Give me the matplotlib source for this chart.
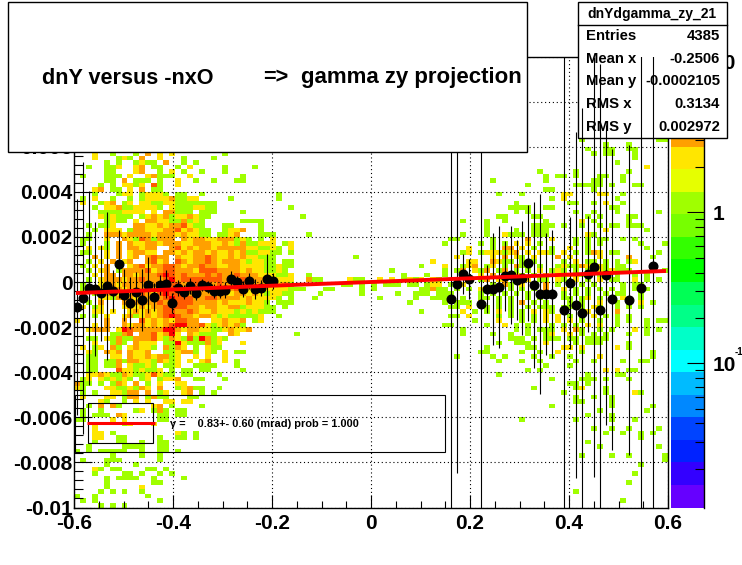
import numpy as np
import matplotlib
matplotlib.use("Agg")
import matplotlib.pyplot as plt
from matplotlib.colors import BoundaryNorm, ListedColormap
from matplotlib.patches import Rectangle
from matplotlib.transforms import Affine2D

plt.rcParams["font.family"] = ["Liberation Sans", "DejaVu Sans"]
plt.rcParams["font.weight"] = "bold"

W, H = 742, 565

# 2D histogram, counts per bin. row 0 is the top bin, '.' is an empty bin
# columns 0-39, rows 21-99
LEFT_ROWS = [
    "...2..1... 1.3.2.2... .....1....",
    "...2...121 .3..2...1. ...1......",
    ".....1.1.. 1211.3..1. 1.........",
    "..1..112.. 23.11..1.2 .....1.... 1",
    ".....11... 23..1.2.1. .1...1....",
    ".1...111.2 ..23111..2 ........1.",
    ".....11.3. 111.1..2.. 1..1...11.",
    "....1.1.22 12.41..2..",
    "...23.11.2 .3.11.....",
    "...1...122 .12221.11. .1........ ....1",
    ".1.2..1..1 .122223112 2.....1... ....1",
    ".2..123.12 .221122111 1111......",
    "...1.22311 22221.2111 2211...... ......1",
    "....111122 22.2.33111 .111....1.",
    "....212111 .123231223 211....... ........1",
    ".....1211. 2.33221131 21......11 11",
    "..1.112... 3322323342 11...11... .1",
    "...1.222.1 3322233423 211..1223. .1",
    "..1..33323 3332333232 211.1123.. .111.....1",
    ".11..2..32 1431333.32 3322333121 .1.2",
    ".1...1.3.3 2233233322 3332232131 1222.12",
    "..2.21.3.3 3233..3423 2332333332 21121.2",
    ".11..2.3.2 3322.33232 3323223231 12211.1",
    "...3.2.3.2 3.3433.322 3343223232 2111",
    "..1.2.3.23 ..3423.432 3343233321 2211.11",
    ".1.2.3.2.2 3423344323 3433223322 2211211",
    "..1.23.133 3342344333 2444333323 221121",
    "...2.33.33 2333464343 3343433433 3222112..1",
    "..1.233323 3433346344 4444433343 3322222..3",
    ".1..223233 3343444433 4343433443 3322231",
    ".12.222323 3333444444 4343333432 332222111",
    "...1233233 3432464433 4333332332 3212211",
    ".1..221323 2334346444 3344333323 22221.1",
    "..1.3...33 3233436444 3333232223 221.111",
    ".2.12...23 2323344443 3233223312 2211.1",
    "...22.2..2 3232344334 3223222121 2111",
    ".1.1.2..23 1232346433 2332121111 12..1",
    "2....3..3. .423232443 3..2232 23. 12",
    "...2.3..32 3323234663 342123231. .......",
    "..2333.264 3333366323 3221123223",
    "......1134 .3342362.3 2111..32.. .......1",
    "..11.21311 3334213214 16312 1....",
    "...2..131. 3222.11621 11312...2.",
    ".2.12.31.2 3221.3132. 1.211.....",
    "..21.323.3 223..11233 1.21.2.11.",
    "..11..22.3 22323312.. 2.2..2....",
    "..11.11313 32213212.2 .23..2.1..",
    "..11.113.2 1121.112.. 1111...1..",
    "..11...422 12112.1.11 .11.....1.",
    "..22321132 1124211.11 ....1",
    ".12.212121 .12.1223.. 11...1....",
    "311.1.132. 3.1.2..22.",
    "21...22112 132.3..123 11..1.....",
    ".1.1..2213 3.3.12..23 .1.1......",
    ".2...22.13 3.1311...1 1.........",
    "....21..1. 2.2..22.22",
    "..1.3.31.. ...23.1... .1",
    ".1..1..... 12.131.11.",
    ".1.111.32. ....11.11.",
    "11....2.2. ....11",
    "...2....12 ...2......",
    "...2......",
    "...22.1... .......21. 1",
    "...22..11. ....1..11. 1",
    "...1...11. .1..11....",
    "..1.....11 11..11....",
    "1.1.11111. .1..11.1..",
    "......1... .1..1.....",
    ".1...111.. ....1.....",
    ".....1.... 1.........",
    "...21.11.. ..11.1....",
    "...1....11 .1..1.1...",
    ".....1.111 1..1....1.",
    ".....1.... ...11.....",
    ".....1.... .2........",
    "....1.1.1. .1........",
    "1..1...... ..1.......",
    ".1.1...... ....1.....",
    "....1.1.1.",
]

# columns 60-99, rows 18-98
RIGHT_ROWS = [
    ".......... .......... .....1.... ........11",
    ".......... .......... .........1 ...1......",
    ".......... .......... ......1..1 1..11.....",
    ".......... .......... .......1.1 1...1.....",
    ".......... .......... .......... ....1.....",
    ".......... .......... .......... .1........",
    ".......... .......... .......... ......2...",
    ".......... ........1. ....1..... ...1......",
    ".......... .........1 .11.1...11 ..1.......",
    ".......... 1........1 .......11. ..1.......",
    ".......... ......1... ....11111. 1...11....",
    ".......... .........1 1......1.. ..........",
    ".......... .1...1.... ..22....22 ..1.......",
    ".......... .......... 1.2....... .1........",
    ".......... ....1..... ...11..1.2 ..1.......",
    ".......... ...1111..1 1......... 11........",
    ".......... ....1.1... ....1..1.. .1......1.",
    ".......... .11....11. ......1.1. ...11.....",
    ".....1...1 ..1......1 .....2.1.. ...1......",
    ".........1 .......111 1.1..1..1. 11.111....",
    ".........1 ....1..111 .........2 ......1...",
    ".....1...1 ..2111.111 ......21.. ..........",
    "...11..... 1.....3... 2...1.1.11 ..1.1.....",
    "..1.....1. 1.1.2.2.1. ....1.1.1. .....1...1",
    "......2... 1.33.2.1.. 1..2..1... ......1...",
    ".....12.12 22123.2.22 1.2.1.132. 11......1.",
    "....2..... 2.3.21.2.. .3.2....2. ...3...1..",
    "2.....22.. 3211.1.1.. ..1.2.11.1 .1.12.....",
    "..2..123.1 2.1.311.1. .121132.21 .11....1..",
    "..1.13.213 .13.1.1.2. 121.1.1.21 2111.....1",
    "..1..3..2. 3.1321.1.2 .212312.1. .1..1.1...",
    "21..1.2.13 .23.1.2.11 .21.2.1.2. 11..2.1.1.",
    "22.1.2.... 1.31.2.1.3 .1.1.1.1.. ..1.11....",
    "311.1.1.2. .2.1.1.1.3 ..2.1.1.1. 1.1.1.1...",
    ".111....1. 1.1.1.1.1. ..1.1.1..1 .11..1....",
    "1111.1..11 .1.1..1.1. ..11.12.1. 1.2..1....",
    "..1.111.2. .1.1.3.1.1 ...1.1..2. .1.1.2.1..",
    "...11.2..1 .1.1..1.11 1.11.1.21. .1.1.1....",
    ".....2.1.1 .2.1.1.2.2 1.2...2... .3........",
    "...11.2... .1.1.1.1.2 .2.1.1.2.1 .1.1......",
    ".......1.. .2...1.1.2 .2.2.1..1. .1.1..1.11",
    "..11.....1 ..2.1.1... 1.1.1.2.2. .1....1...",
    ".....1.... ....1.1.11 1.2.31..1. 1...2.1.1.",
    ".....1.... 1..1..1..1 2..2.1.1.1 ...1..1...",
    ".......... ...111.1.1 11.11.1111 ..........",
    ".......... .1..111..2 ....1.111. ...1......",
    ".........1 ......11.. ..22.2.... .2.1......",
    "........11 .....1..1. .2...1.... .......1..",
    "....1..... 1.1....1.. 1..1....2. .......1..",
    ".......... .1...1..1. ....1..1.. ..1..11...",
    ".......... .........1 ...1......",
    ".......... ......1.1. .........2 .2.11.....",
    ".......... .1........ ......1... .11.......",
    ".......... .......... 1....111.1 ...1......",
    ".......... .......... ...11.1...",
    ".......... .......1.. ....12...1",
    ".......... .......... ..1......1 ....21....",
    ".......... .......... ....1..1.. 1.........",
    ".......... .......... ....11.... 1.........",
    ".......... .......... 1......... 1......1..",
    ".......... .......... ........1. ......1...",
    ".......... .......... ......1... 1.........",
    ".......... .....1.... ....1..... 1...1.....",
    "..........",
    ".......... .......... .......1.. 1..1....1.",
    ".......... .......... .........1 ..1..1.1..",
    ".......... .......... .......... .....1....",
    ".......... .......... ......1...",
    ".......... .......... ........1. ........1.",
    "..........",
    ".......... .......... .....1.... 1..1.....1",
    ".......... .......... .......... .........1",
    ".......... .......... .......... .....1....",
    "..........",
    ".......... .......... .......... ....1.....",
    "..........",
    ".......... .......... .......... ...1......",
    "..........",
    ".......... .......... ....1.....",
    "..........",
    ".......... .......... .......... ..1.......",
]

# (row, column, count) for the sparse middle of the histogram
MID_CELLS = [
    (44, 47, 1), (46, 58, 1), (47, 53, 1), (48, 55, 1), (48, 59, 1),
    (49, 40, 1), (49, 41, 1), (49, 46, 2), (49, 47, 1), (49, 48, 1), (49, 51, 2),
    (49, 53, 2), (49, 55, 1), (49, 56, 2), (49, 57, 1), (49, 58, 2),
    (50, 45, 1), (50, 46, 1), (50, 48, 1), (50, 50, 1), (50, 52, 1), (50, 53, 1),
    (50, 54, 1), (50, 56, 1), (50, 57, 1), (50, 59, 1),
    (51, 42, 1), (51, 43, 1), (51, 48, 1), (51, 50, 1), (51, 58, 1), (51, 59, 1),
    (52, 41, 1), (52, 48, 1), (52, 54, 1), (52, 57, 1), (52, 58, 1), (52, 59, 1),
    (53, 40, 1), (53, 51, 1), (53, 57, 1), (54, 56, 1), (56, 58, 1),
]

# profile points: bin index, mean and error
PROF_BIN = [0, 1, 2, 3, 4, 5, 6, 7, 8, 9, 10, 11, 12, 13, 14, 15, 16, 17, 18, 19, 20, 21, 22,
            23, 24, 25, 26, 27, 28, 29, 30, 31, 32, 33,
            63, 64, 65, 66, 68, 69, 70, 71, 72, 73, 74, 75, 76, 77, 78, 79, 80,
            82, 83, 84, 85, 86, 87, 88, 89, 90, 93, 95, 97]
PROF_Y = [-0.00111, -0.00071, -0.00027, -0.00031, -0.00049, -0.00018, -0.0004, 0.0008, -0.00058,
          -0.00093, -0.00044, -0.0008, -0.00013, -0.00067, -0.00013, -0.00009, -0.00093, -0.00027,
          -0.00044, -0.00018, -0.00049, -0.00013, -0.00022, -0.0004, -0.0004, -0.00036, 0.00013,
          0.0, -0.00031, 0.00004, -0.00031, -0.00027, 0.00013, 0.00004,
          -0.00076, -0.00009, 0.00036, 0.00013, -0.00098, -0.00031, -0.00031, -0.00022, 0.00027,
          0.00031, 0.00009, 0.00018, 0.00084, -0.00013, -0.00053, -0.00053, -0.00053,
          -0.00124, -0.00004, -0.00102, -0.00138, 0.00036, 0.00067, -0.00124, 0.00031, -0.00076,
          -0.0008, -0.00027, 0.00071]
PROF_ERR = [0.0048, 0.00604, 0.00431, 0.00298, 0.00213, 0.00329, 0.00093, 0.00151, 0.00116,
            0.00116, 0.00089, 0.00138, 0.00124, 0.00062, 0.00044, 0.00062, 0.00044, 0.00036,
            0.00031, 0.00036, 0.00031, 0.00027, 0.00027, 0.00031, 0.00031, 0.00036, 0.00036,
            0.00027, 0.00036, 0.00036, 0.00044, 0.00036, 0.00111, 0.00036,
            0.0133, 0.0084, 0.00089, 0.00089, 0.0133, 0.00107, 0.00249, 0.00271, 0.00156,
            0.00218, 0.00178, 0.00253, 0.00258, 0.00369, 0.00444, 0.00271, 0.00284,
            0.0133, 0.00293, 0.00769, 0.00911, 0.00258, 0.00933, 0.01089, 0.00667, 0.00667,
            0.00689, 0.0133, 0.0133]

FIT_X = [-0.596, 0.596]
FIT_Y = [-0.00049, 0.00049]

X_TICKS = [-0.6, -0.4, -0.2, 0, 0.2, 0.4, 0.6]
X_LABELS = ["-0.6", "-0.4", "-0.2", "0", "0.2", "0.4", "0.6"]
Y_TICKS = [-0.01, -0.008, -0.006, -0.004, -0.002, 0, 0.002, 0.004, 0.006, 0.008, 0.01]
Y_LABELS = ["-0.01", "-0.008", "-0.006", "-0.004", "-0.002", "0", "0.002", "0.004", "0.006", "0.008", "0.01"]

STAT_NAMES = ["Entries", "Mean x", "Mean y", "RMS x", "RMS y"]
STAT_VALUES = ["4385", "-0.2506", "-0.0002105", "0.3134", "0.002972"]

PALETTE = ["#6600ff", "#3300ff", "#0022ff", "#0044ff", "#0088ff", "#00bbff", "#00ffff", "#00ffc8",
           "#00ff88", "#00ff55", "#00ff00", "#33ff00", "#77ff00", "#a0ff00", "#e6ff00", "#ffe600",
           "#ffa000", "#ff5a00", "#ff0000", "#ee0000"]

counts = np.zeros((100, 100))
for r, row in enumerate(LEFT_ROWS, start=21):
    for i, c in enumerate(row.replace(" ", "")):
        if c != ".":
            counts[r, i] = int(c)
for r, row in enumerate(RIGHT_ROWS, start=18):
    for i, c in enumerate(row.replace(" ", "")):
        if c != ".":
            counts[r, 60 + i] = int(c)
for r, i, n in MID_CELLS:
    counts[r, i] = n
counts = np.ma.masked_equal(counts, 0)

levels = np.geomspace(0.0111, 10.8, 21)
cmap = ListedColormap(PALETTE)
norm = BoundaryNorm(levels, cmap.N)

fig = plt.figure(figsize=(W / 100, H / 100), dpi=100)
# pixel coordinates of the picture, y downwards
px = Affine2D().scale(1 / W, -1 / H).translate(0, 1) + fig.transFigure


def axes_px(x0, y0, x1, y1):
    return [x0 / W, 1 - y1 / H, (x1 - x0) / W, (y1 - y0) / H]


# palette on the right
cax = fig.add_axes(axes_px(671, 56.5, 704, 507.5), zorder=0)
cax.pcolormesh([0, 1], levels, np.sqrt(levels[:-1] * levels[1:]).reshape(-1, 1), cmap=cmap, norm=norm)
cax.set_yscale("log")
cax.set_ylim(levels[0], levels[-1])
cax.set_xticks([])
for side in ["left", "top", "bottom"]:
    cax.spines[side].set_visible(False)
cax.spines["right"].set_linewidth(1.0)
cax.yaxis.tick_right()
cax.set_yticks([0.1, 1, 10], labels=["10", "1", "10"])
cax.set_yticks([m * 10.0 ** k for k in (-2, -1, 0) for m in range(2, 10)], minor=True)
cax.set_yticklabels([], minor=True)
cax.tick_params(axis="y", which="major", direction="in", length=12.5, width=0.8, labelsize=15, pad=6)
cax.tick_params(axis="y", which="minor", direction="in", length=6.5, width=0.8)

ax = fig.add_axes(axes_px(74, 56.5, 668, 507.5), zorder=1)
ax.set_axisbelow(False)
xedges = np.linspace(-0.6, 0.6, 101)
yedges = np.linspace(0.01, -0.01, 101)
ax.pcolormesh(xedges, yedges, counts, cmap=cmap, norm=norm, zorder=1)
ax.set_xlim(-0.6, 0.6)
ax.set_ylim(-0.01, 0.01)
ax.set_xticks(X_TICKS, labels=X_LABELS)
ax.set_yticks(Y_TICKS, labels=Y_LABELS)
ax.set_xticks(np.arange(-0.6, 0.601, 0.05), minor=True)
ax.set_yticks(np.arange(-0.01, 0.0101, 0.0004), minor=True)
ax.tick_params(axis="x", which="major", direction="in", length=9.5, width=0.8, labelsize=15, pad=4.5, top=False)
ax.tick_params(axis="x", which="minor", direction="in", length=4.7, width=0.8, top=False)
ax.tick_params(axis="y", which="major", direction="in", length=13, width=0.8, labelsize=15, pad=1, right=False)
ax.tick_params(axis="y", which="minor", direction="in", length=6.5, width=0.8, right=False)
ax.grid(True, which="major", color="black", linewidth=0.8, linestyle=(0, (1, 2.5)))
for s in ax.spines.values():
    s.set_linewidth(1.0)

# stats box sits over the histogram, the error bars go over it
ax.add_patch(Rectangle((578, 2), 149, 136, transform=px, fc="white", ec="black", lw=1.0, clip_on=False, zorder=3))
ax.plot([578, 727], [25, 25], transform=px, color="black", lw=1.0, clip_on=False, zorder=3.1)
ax.text(652, 14, "dnYdgamma_zy_21", transform=px, ha="center", va="center", fontsize=10, zorder=3.2)
stat_y = [36, 59, 81, 104, 127]
for sy, name, value in zip(stat_y, STAT_NAMES, STAT_VALUES):
    ax.text(586, sy, name, transform=px, ha="left", va="center", fontsize=10.7, zorder=3.2)
    ax.text(720, sy, value, transform=px, ha="right", va="center", fontsize=10.7, zorder=3.2)

prof_x = -0.6 + 0.012 * (np.array(PROF_BIN) + 0.5)
ax.errorbar(prof_x, PROF_Y, yerr=PROF_ERR, fmt="o", color="black", ms=6.2, elinewidth=0.8, zorder=4)
ax.plot(FIT_X, FIT_Y, color="red", lw=2.8, solid_capstyle="butt", zorder=4.2)

# fit box, not filled
ax.add_patch(Rectangle((75, 395), 370, 57, transform=px, fc="none", ec="black", lw=0.8, clip_on=False, zorder=4.5))
ax.add_patch(Rectangle((88, 403), 65, 40, transform=px, fc="none", ec="black", lw=0.8, clip_on=False, zorder=4.5))
ax.plot([87, 155], [423, 423], transform=px, color="red", lw=2.2, solid_capstyle="butt", clip_on=False, zorder=4.6)
ax.text(170, 424, "\u03b3 =    0.83+- 0.60 (mrad) prob = 1.000", transform=px, ha="left", va="center",
        fontsize=7.9, zorder=4.6)

# title box covers the error bars
ax.add_patch(Rectangle((8, 2), 519, 150, transform=px, fc="white", ec="black", lw=1.0, clip_on=False, zorder=5))
ax.text(42, 78, "dnY versus -nxO", transform=px, ha="left", va="center", fontsize=15.6, zorder=6)
ax.text(263, 78, "=>", transform=px, ha="left", va="center", fontsize=15.6, zorder=6)
ax.text(301, 78, "gamma zy projection", transform=px, ha="left", va="center", fontsize=16, zorder=6)

fig.text(735 / W, 1 - 352 / H, "-1", fontsize=7, ha="left", va="center")

fig.savefig("out.png", dpi=100)
